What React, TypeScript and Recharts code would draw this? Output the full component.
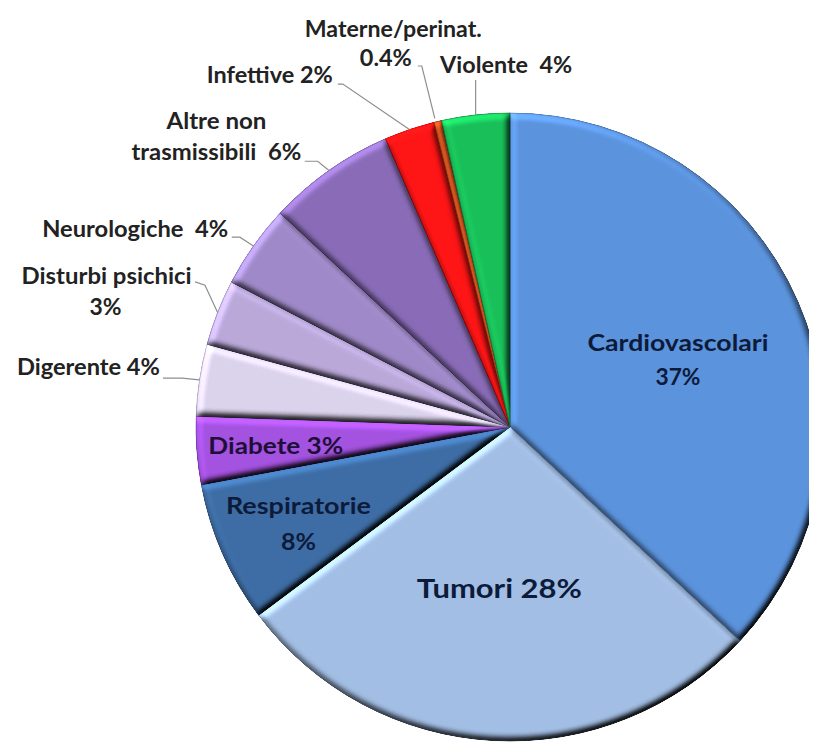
import React from "react";
import { PieChart, Pie, Cell } from "recharts";

// Cause-of-death shares, clockwise from 12 o'clock. Slice sizes read off the
// picture's angles; the printed percentages are the chart's own rounded labels.
const causes = [
  "Cardiovascolari",
  "Tumori",
  "Respiratorie",
  "Diabete",
  "Digerente",
  "Disturbi psichici",
  "Neurologiche",
  "Altre non trasmissibili",
  "Infettive",
  "Materne/perinat.",
  "Violente",
];
const shares = [37, 27.9, 7.3, 3.5, 3.7, 3.4, 4.3, 6.6, 2.6, 0.4, 3.5];
const shareLabels = ["37%", "28%", "8%", "3%", "4%", "3%", "4%", "6%", "2%", "0.4%", "4%"];

const fills = ["#5c94de", "#a3bfe5", "#3e6ea6", "#a552e1", "#dcd3ec", "#bba9da", "#a08ac9", "#8a6cb8", "#ff1515", "#d0521c", "#19c15a"];
const edges = ["#4472b0", "#7e9cc8", "#2f5585", "#7a37b0", "#b0a5c8", "#9280b5", "#7963a2", "#664e92", "#c00000", "#8a3010", "#108a3e"];

const data = causes.map((name, i) => ({ name, value: shares[i], pct: shareLabels[i] }));

// Label layout. Outside labels hang off the arc point at the slice's middle
// angle (offsets in px); inside labels sit at a fraction of the radius.
// w = printed width of the line (Calibri-ish proportions on top of Lato).
type Line = { text: string; dx: number; dy: number; w: number; anchor?: "start" | "middle" | "end" };
type Place = {
  inside?: number;
  size: number;
  color: string;
  lines: Line[];
  leader?: [number, number][];
};

const OUT = "#222222";
const IN = "#0d1b3a";

const places: Place[] = [
  { inside: 0.58, size: 23.5, color: IN, lines: [{ text: "Cardiovascolari", dx: 1, dy: -3, w: 181 }, { text: "37%", dx: 1, dy: 31, w: 45 }] },
  { inside: 0.52, size: 26, color: IN, lines: [{ text: "Tumori 28%", dx: -2, dy: 8, w: 165 }] },
  { inside: 0.736, size: 22, color: IN, lines: [{ text: "Respiratorie", dx: 0, dy: -6, w: 145 }, { text: "8%", dx: 0, dy: 30, w: 35 }] },
  { inside: 0.748, size: 22, color: "#1e0f38", lines: [{ text: "Diabete 3%", dx: 0, dy: 9, w: 135 }] },
  { size: 22, color: OUT, lines: [{ text: "Digerente 4%", dx: -39.6, dy: -4.8, w: 143, anchor: "end" }], leader: [[-36.6, -1.8], [-17.6, -1.8], [0, 0]] },
  {
    size: 22,
    color: OUT,
    lines: [{ text: "Disturbi psichici", dx: -111, dy: -29, w: 170 }, { text: "3%", dx: -112, dy: 2.6, w: 32 }],
    leader: [[-22.6, -30.7], [-12.6, -27.4], [0, 0]],
  },
  { size: 22, color: OUT, lines: [{ text: "Neurologiche  4%", dx: -25.3, dy: -9.1, w: 186, anchor: "end" }], leader: [[-21.6, -8.8], [-13.6, -8.8], [0, 0]] },
  {
    size: 22,
    color: OUT,
    lines: [{ text: "Altre non", dx: -112.5, dy: -41.9, w: 100 }, { text: "trasmissibili  6%", dx: -112.5, dy: -10.2, w: 170 }],
    leader: [[-24.2, -9.2], [-11.2, -9.2], [0, 0]],
  },
  { size: 22, color: OUT, lines: [{ text: "Infettive 2%", dx: -76.6, dy: -46.2, w: 126, anchor: "end" }], leader: [[-71.6, -45.5], [-66.6, -45.5], [0, 0]] },
  {
    size: 22,
    color: OUT,
    lines: [{ text: "Materne/perinat.", dx: -44.5, dy: -84.7, w: 177 }, { text: "0.4%", dx: -52, dy: -55.4, w: 52 }],
    leader: [[-20, -55.4], [-16, -55.4], [-3, -3]],
  },
  { size: 22, color: OUT, lines: [{ text: "Violente  4%", dx: 30.5, dy: -41.9, w: 132 }], leader: [[0, -35], [0, 0]] },
];

const RAD = Math.PI / 180;

function SliceLabel(props: any) {
  const { cx, cy, midAngle, outerRadius, index } = props;
  const p = places[index];
  if (!p) return null;
  const r = p.inside ? outerRadius * p.inside : outerRadius;
  const x = cx + r * Math.cos(-midAngle * RAD);
  const y = cy + r * Math.sin(-midAngle * RAD);
  return (
    <g>
      {p.leader && (
        <polyline
          points={p.leader.map(([dx, dy]) => `${x + dx},${y + dy}`).join(" ")}
          fill="none"
          stroke="#8f8f8f"
          strokeWidth={1.2}
        />
      )}
      {p.lines.map((l, i) => (
        <text
          key={i}
          x={x + l.dx}
          y={y + l.dy}
          textAnchor={l.anchor ?? "middle"}
          textLength={l.w}
          lengthAdjust="spacingAndGlyphs"
          fill={p.color}
          fontFamily="Lato, 'Open Sans', sans-serif"
          fontWeight={700}
          fontSize={p.size}
          style={{ whiteSpace: "pre" }}
        >
          {l.text}
        </text>
      ))}
    </g>
  );
}

export default function App() {
  return (
    <div style={{ width: 817, height: 744, margin: "-8px 0 0 -8px", background: "#fff" }}>
      <PieChart width={817} height={744}>
        <defs>
          <filter id="bevel" x="-5%" y="-5%" width="110%" height="110%" colorInterpolationFilters="sRGB">
            <feGaussianBlur in="SourceAlpha" stdDeviation="3.5" result="blur" />
            <feDiffuseLighting in="blur" surfaceScale="5" diffuseConstant="1" lightingColor="#ffffff" result="diff">
              <feDistantLight azimuth="235" elevation="50" />
            </feDiffuseLighting>
            <feComposite in="SourceGraphic" in2="diff" operator="arithmetic" k1="1.3" k2="0" k3="0" k4="0" result="lit" />
            <feComposite in="lit" in2="SourceAlpha" operator="in" />
          </filter>
        </defs>
        <Pie
          data={data}
          dataKey="value"
          nameKey="name"
          cx={505}
          cy={422}
          outerRadius={314}
          startAngle={90}
          endAngle={-270}
          label={SliceLabel}
          labelLine={false}
          isAnimationActive={false}
        >
          {data.map((d, i) => (
            <Cell key={d.name} fill={fills[i]} stroke={edges[i]} strokeWidth={1} filter="url(#bevel)" />
          ))}
        </Pie>
      </PieChart>
    </div>
  );
}
